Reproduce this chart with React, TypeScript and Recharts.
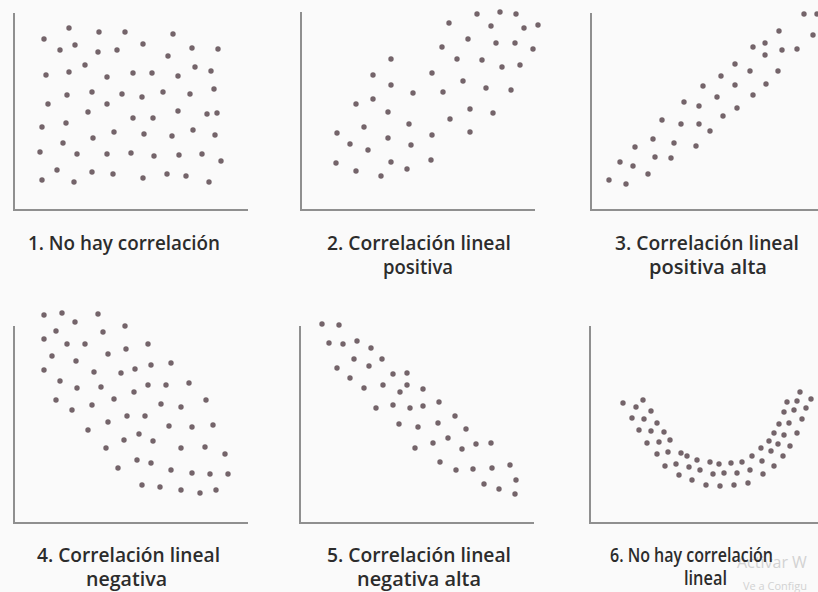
import React from 'react';
import { ScatterChart, Scatter, XAxis, YAxis, ReferenceLine } from 'recharts';

type Pair = [number, number];

// 1. No hay correlación
const noCorrelation: Pair[] = [
  [5.5, 18.2], [8.5, 17.8], [11.1, 17.8], [15.9, 17.6],
  [3.0, 17.1], [4.6, 16.0], [6.1, 16.5], [8.4, 15.8], [10.3, 16.0], [12.9, 16.6], [15.4, 15.4], [17.8, 16.2], [20.4, 16.1],
  [3.2, 13.5], [5.5, 13.8], [7.1, 14.5], [9.3, 13.3], [11.9, 13.7], [13.8, 13.7], [16.4, 13.4], [18.1, 14.3], [19.7, 13.9],
  [5.3, 11.5], [7.8, 11.8], [10.8, 11.6], [12.8, 11.3], [14.9, 11.8], [17.6, 11.6], [20.0, 12.1],
  [3.4, 10.6], [7.4, 9.8], [9.3, 10.6], [11.9, 9.2], [13.9, 9.2], [16.4, 9.9], [19.3, 9.6], [20.3, 9.7],
  [2.8, 8.3], [5.2, 8.7], [7.9, 7.2], [10.0, 7.8], [13.0, 7.6], [15.8, 7.4], [17.9, 8.0], [20.1, 7.5],
  [4.9, 6.7],
  [2.6, 5.8], [6.3, 5.6], [9.3, 5.6], [11.7, 5.7], [14.0, 5.4], [16.5, 5.5], [18.8, 5.6], [20.7, 4.9],
  [4.3, 4.0], [7.8, 3.8], [9.9, 3.6], [2.8, 3.0], [6.0, 2.8], [12.9, 3.2], [15.3, 3.6], [17.2, 3.4], [19.5, 2.8],
];

// 2. Correlación lineal positiva
const positive: Pair[] = [
  [17.6, 19.6], [19.9, 19.8], [21.5, 19.6], [14.8, 18.7], [19.0, 18.4], [22.3, 18.2], [23.7, 18.5],
  [16.7, 17.1], [14.1, 16.3], [19.5, 16.7], [21.4, 16.7], [23.2, 16.1],
  [9.0, 15.1], [15.6, 15.1], [18.1, 15.0], [20.1, 14.3], [21.9, 14.5],
  [7.2, 13.5], [13.1, 13.7], [16.2, 12.9], [9.0, 12.5], [14.2, 11.8], [18.5, 12.2], [21.0, 12.0], [11.2, 11.7],
  [5.5, 10.6], [7.2, 11.1], [8.7, 9.8], [16.9, 10.1], [19.2, 9.7],
  [6.3, 8.3], [10.8, 8.6], [14.9, 9.1], [3.6, 7.7], [16.9, 7.8],
  [4.9, 6.6], [8.7, 7.2], [11.0, 6.5], [13.1, 7.5], [6.7, 6.0],
  [3.5, 4.7], [9.0, 4.8], [13.0, 5.0], [5.5, 3.9], [10.6, 4.1], [8.0, 3.4],
];

// 3. Correlación lineal positiva alta
const positiveHigh: Pair[] = [
  [21.3, 19.6], [22.6, 19.6], [22.2, 17.5], [18.8, 17.9], [16.2, 16.3], [17.4, 16.7], [17.4, 15.5], [19.1, 16.0], [20.6, 16.1],
  [14.4, 14.6], [13.0, 13.4], [15.9, 13.9], [18.7, 13.9], [11.2, 12.4], [14.4, 12.5], [17.5, 12.6],
  [12.6, 11.3], [16.2, 11.5], [9.3, 10.8], [10.8, 10.4], [14.6, 10.2], [13.2, 9.4],
  [7.1, 9.0], [9.0, 8.6], [10.8, 8.6], [11.9, 7.9], [6.2, 7.1], [8.3, 6.7], [10.5, 6.4], [4.4, 6.3],
  [2.9, 4.8], [4.2, 4.4], [6.4, 5.3], [8.0, 5.2], [5.7, 3.6], [1.8, 3.0], [3.5, 2.6],
];

// 4. Correlación lineal negativa
const negative: Pair[] = [
  [3.0, 20.8], [4.8, 21.0], [8.4, 20.9], [6.1, 20.1], [11.1, 19.7], [4.2, 19.2], [8.9, 19.1],
  [3.0, 18.4], [5.3, 17.9], [7.1, 17.9], [11.2, 17.4], [13.4, 17.9],
  [3.8, 16.7], [6.2, 16.2], [9.4, 16.9],
  [3.0, 15.3], [8.0, 15.1], [10.7, 15.0], [12.1, 15.4], [13.7, 15.8], [15.7, 16.0],
  [4.6, 14.2], [6.3, 13.5], [8.7, 13.6], [12.0, 13.1], [13.4, 13.8], [15.2, 13.8], [17.5, 14.0],
  [4.2, 12.3], [5.8, 11.3], [7.8, 11.8], [10.0, 12.4], [14.7, 11.9], [16.7, 11.6], [19.2, 12.3],
  [9.4, 10.1], [11.3, 10.7], [13.1, 10.7], [7.4, 9.3], [15.5, 9.7], [17.8, 9.6], [19.9, 9.8],
  [11.0, 8.3], [12.5, 8.9], [13.9, 8.2], [9.2, 7.5], [16.7, 7.5], [19.1, 7.6], [21.1, 6.9],
  [12.3, 6.3], [13.7, 6.0], [10.4, 5.5], [15.7, 5.3], [17.8, 5.0], [19.6, 4.9], [21.4, 4.9],
  [12.8, 3.8], [14.6, 3.6], [16.7, 3.3], [18.6, 3.0], [20.2, 3.3],
];

// 5. Correlación lineal negativa alta
const negativeHigh: Pair[] = [
  [2.2, 19.9], [3.9, 19.8], [2.9, 18.0], [4.3, 17.9], [5.7, 18.2], [7.1, 17.5],
  [5.4, 16.4], [8.2, 16.4], [3.7, 15.5], [6.9, 15.7], [5.0, 14.5], [9.3, 14.9], [10.7, 15.0],
  [6.4, 13.5], [8.3, 13.8], [10.0, 13.1], [10.7, 13.8], [12.3, 13.4],
  [7.6, 11.5], [9.3, 11.8], [11.0, 11.5], [12.3, 11.7], [13.9, 12.1],
  [9.9, 9.9], [11.8, 9.6], [13.8, 10.0], [15.5, 10.7], [16.6, 9.4],
  [11.5, 7.5], [13.3, 8.0], [14.8, 8.5], [16.2, 7.4], [17.6, 7.9], [19.1, 8.0],
  [14.0, 6.1], [15.6, 5.3], [17.3, 5.4], [19.2, 5.5], [21.0, 5.8],
  [21.6, 4.3], [18.4, 3.9], [19.9, 3.4], [21.5, 2.9],
];

// 6. No hay correlación lineal
const nonLinear: Pair[] = [
  [3.3, 12.0], [4.6, 11.6], [5.3, 12.3], [6.1, 11.2], [4.2, 10.5], [5.4, 10.4], [6.7, 10.0],
  [4.9, 9.3], [6.1, 9.2], [7.4, 9.1], [5.7, 8.0], [6.9, 8.1], [8.0, 8.3],
  [6.7, 6.9], [7.8, 7.1], [9.1, 7.0], [9.7, 6.7], [10.7, 6.3],
  [7.5, 5.7], [8.6, 5.9], [9.9, 5.6], [11.0, 5.3],
  [8.9, 4.8], [10.2, 4.3], [11.6, 3.8], [13.0, 3.7], [14.4, 3.8], [15.8, 4.0],
  [12.0, 6.1], [12.9, 5.9], [14.1, 6.0], [15.2, 6.1], [16.2, 6.7],
  [12.3, 4.9], [13.4, 5.0], [14.7, 5.0], [16.0, 5.3], [17.2, 6.2], [17.3, 4.9], [18.4, 5.7],
  [17.1, 7.5], [18.1, 7.2], [17.9, 8.2], [18.8, 7.9], [19.3, 6.7], [20.0, 7.7],
  [18.4, 9.0], [18.9, 9.9], [19.4, 8.8], [20.7, 9.0], [19.9, 10.0], [21.2, 10.4],
  [19.4, 11.1], [20.4, 11.3], [21.6, 11.5], [19.7, 12.1], [20.7, 12.2], [22.1, 12.4], [21.0, 13.1],
];

const captions: string[][] = [
  ['1. No hay correlación'],
  ['2. Correlación lineal', 'positiva'],
  ['3. Correlación lineal', 'positiva alta'],
  ['4. Correlación lineal', 'negativa'],
  ['5. Correlación lineal', 'negativa alta'],
  ['6. No hay correlación', 'lineal'],
];

const DOT = '#74646a';
const AXIS = '#8f8f8f';
const INK = '#2c2c2c';

const X_DOMAIN: [number, number] = [-1, 25];
const Y_DOMAIN: [number, number] = [-1, 22];
const UNIT = 10;
const CW = (X_DOMAIN[1] - X_DOMAIN[0]) * UNIT;
const CH = (Y_DOMAIN[1] - Y_DOMAIN[0]) * UNIT;

type PanelLayout = { data: Pair[]; ox: number; oy: number; xLen: number; yLen: number };

const panels: PanelLayout[] = [
  { data: noCorrelation, ox: 14.3, oy: 210, xLen: 23.4, yLen: 19.7 },
  { data: positive, ox: 300.7, oy: 210, xLen: 23.4, yLen: 19.8 },
  { data: positiveHigh, ox: 590.7, oy: 210, xLen: 23.5, yLen: 19.7 },
  { data: negative, ox: 14.3, oy: 523, xLen: 23.4, yLen: 19.7 },
  { data: negativeHigh, ox: 300.3, oy: 523, xLen: 23.4, yLen: 19.7 },
  { data: nonLinear, ox: 589.6, oy: 523, xLen: 23.5, yLen: 19.7 },
];

// caption layout: [centerX, baselineY, width] per line
const captionLayout: [number, number, number][][] = [
  [[124, 250, 192]],
  [[419, 250, 184], [418, 274, 70]],
  [[707, 250, 184], [708, 274, 118]],
  [[128.5, 562, 183], [126.5, 586, 81]],
  [[419, 562, 184], [419, 586, 124]],
  [[691.5, 562, 163], [705.5, 585, 43]],
];

const Dot = (props: any) => <circle cx={props.cx} cy={props.cy} r={2.7} fill={DOT} />;

function Panel({ p }: { p: PanelLayout }) {
  const data = p.data.map(([x, y]) => ({ x, y }));
  return (
    <div style={{ position: 'absolute', left: p.ox + X_DOMAIN[0] * UNIT, top: p.oy - Y_DOMAIN[1] * UNIT }}>
      <ScatterChart width={CW} height={CH} margin={{ top: 0, right: 0, bottom: 0, left: 0 }}>
        <XAxis type="number" dataKey="x" domain={X_DOMAIN} hide />
        <YAxis type="number" dataKey="y" domain={Y_DOMAIN} hide />
        <ReferenceLine
          segment={[{ x: 0, y: -0.1 }, { x: 0, y: p.yLen }]}
          stroke={AXIS}
          strokeWidth={2}
          ifOverflow="visible"
        />
        <ReferenceLine
          segment={[{ x: -0.1, y: 0 }, { x: p.xLen, y: 0 }]}
          stroke={AXIS}
          strokeWidth={2}
          ifOverflow="visible"
        />
        <Scatter data={data} shape={Dot} isAnimationActive={false} />
      </ScatterChart>
    </div>
  );
}

export default function App() {
  return (
    <div
      style={{
        position: 'absolute',
        left: 0,
        top: 0,
        width: 818,
        height: 592,
        overflow: 'hidden',
        background: '#fafafa',
      }}
    >
      {panels.map((p, i) => (
        <Panel key={i} p={p} />
      ))}
      <svg width={818} height={592} style={{ position: 'absolute', left: 0, top: 0 }}>
        <text x={737} y={568} fontFamily="'Open Sans', sans-serif" fontSize={16} fill="#d2d2d2">
          Activar W
        </text>
        <text x={743} y={590} fontFamily="'Open Sans', sans-serif" fontSize={11} fill="#d2d2d2">
          Ve a Configu
        </text>
        {captions.map((lines, i) =>
          lines.map((t, j) => {
            const [cx, by, w] = captionLayout[i][j];
            return (
              <text
                key={`${i}-${j}`}
                x={cx}
                y={by}
                textAnchor="middle"
                textLength={w}
                lengthAdjust="spacingAndGlyphs"
                fontFamily="'Open Sans', 'DejaVu Sans', sans-serif"
                fontWeight={600}
                fontSize={20}
                fill={INK}
              >
                {t}
              </text>
            );
          })
        )}
      </svg>
    </div>
  );
}
